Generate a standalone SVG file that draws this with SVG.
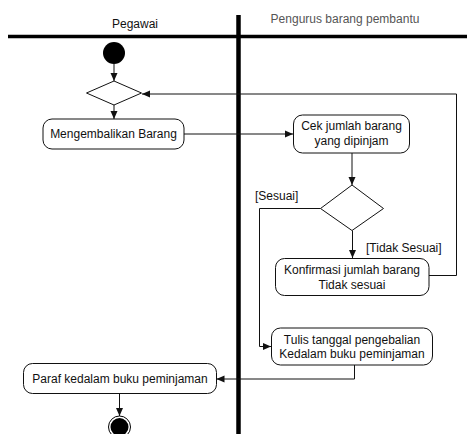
<svg xmlns="http://www.w3.org/2000/svg" width="467" height="434" viewBox="0 0 467 434">
  <style>
    text { font-family: "Liberation Sans", Arial, sans-serif; font-size: 12px; fill: #111; }
    .lbl { text-anchor: middle; }
    .act { fill: #fff; stroke: #111; stroke-width: 1; }
    .dec { fill: #fff; stroke: #111; stroke-width: 1; }
    .flow { fill: none; stroke: #111; stroke-width: 1; marker-end: url(#arr); }
    .lane { stroke: #000; fill: none; }
  </style>
  <defs>
    <marker id="arr" viewBox="0 0 8 8" refX="8" refY="4" markerWidth="8" markerHeight="8" markerUnits="userSpaceOnUse" orient="auto">
      <path d="M0,0.5 L8,4 L0,7.5 Z" fill="#111"/>
    </marker>
  </defs>
  <rect width="467" height="434" fill="#fff"/>

  <!-- swimlanes -->
  <g id="lanes">
    <line class="lane" x1="8" y1="36.5" x2="467" y2="36.5" stroke-width="3.5"/>
    <line class="lane" x1="238.5" y1="15" x2="238.5" y2="434" stroke-width="4.5"/>
    <text class="lbl" x="135" y="28">Pegawai</text>
    <text class="lbl" x="345" y="23" style="fill:#555">Pengurus barang pembantu</text>
  </g>

  <!-- connectors -->
  <g id="connectors">
    <path class="flow" d="M114,64 V81"/>
    <path class="flow" d="M114,105 V119"/>
    <path class="flow" d="M184,134 H293"/>
    <path class="flow" d="M352,153 V185"/>
    <path class="flow" d="M352.5,230.5 V258"/>
    <path class="flow" d="M320.5,208.5 H259.5 V346.5 H271"/>
    <path class="flow" d="M429,275.5 H456.5 V94 H142"/>
    <path class="flow" d="M354.5,365 V379 H216.5"/>
    <path class="flow" d="M119.5,393.5 V416"/>
    <text x="255" y="200">[Sesuai]</text>
    <text x="366" y="251.5">[Tidak Sesuai]</text>
  </g>

  <g id="start">
    <circle cx="114" cy="53" r="11" fill="#000"/>
  </g>

  <g id="merge">
    <polygon class="dec" points="86.5,93 114,81 141.5,93 114,105"/>
  </g>

  <g id="mengembalikan">
    <rect class="act" x="43" y="119" width="141" height="30" rx="9"/>
    <text class="lbl" x="113.5" y="138">Mengembalikan Barang</text>
  </g>

  <g id="cek">
    <rect class="act" x="293.5" y="115" width="116" height="38" rx="9"/>
    <text class="lbl" x="351.5" y="130">Cek jumlah barang</text>
    <text class="lbl" x="351.5" y="144.5">yang dipinjam</text>
  </g>

  <g id="decision">
    <polygon class="dec" points="320.5,208.5 352,185 383.5,208.5 352,230.5"/>
  </g>

  <g id="konfirmasi">
    <rect class="act" x="275.5" y="258.5" width="153.5" height="37" rx="9"/>
    <text class="lbl" x="352" y="274">Konfirmasi jumlah barang</text>
    <text class="lbl" x="352" y="288.5">Tidak sesuai</text>
  </g>

  <g id="tulis">
    <rect class="act" x="271.5" y="328" width="161" height="37" rx="9"/>
    <text class="lbl" x="352" y="343.5">Tulis tanggal pengebalian</text>
    <text class="lbl" x="352" y="357.5">Kedalam buku peminjaman</text>
  </g>

  <g id="paraf">
    <rect class="act" x="23.5" y="363.5" width="193" height="30" rx="9"/>
    <text class="lbl" x="120" y="382.5">Paraf kedalam buku peminjaman</text>
  </g>

  <g id="end">
    <circle cx="119.5" cy="427" r="11" fill="#fff" stroke="#000" stroke-width="1"/>
    <circle cx="119.5" cy="427" r="9" fill="#000"/>
  </g>
</svg>
